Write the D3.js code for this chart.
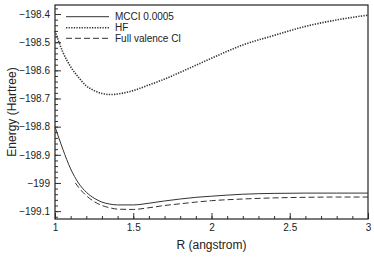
<!DOCTYPE html>
<html>
<head>
<meta charset="utf-8">
<style>
    body { margin: 0; background: #fff; }
    text { font-family: "Liberation Sans", Arial, sans-serif; fill: #222; }
</style>
</head>
<body>
    <script src="https://cdn.jsdelivr.net/npm/d3@7"></script>
    <script type="text/javascript">
        // bond length R (angstrom)
        var rGrid = [1.0, 1.05, 1.1, 1.15, 1.2, 1.25, 1.3, 1.35, 1.4, 1.5, 1.6, 1.7, 1.8, 1.9, 2.0, 2.2, 2.4, 2.6, 2.8, 3.0];
        var mcciEnergy = [-198.8, -198.88, -198.95, -199.0, -199.033, -199.054, -199.068, -199.075, -199.078, -199.078, -199.072, -199.064, -199.057, -199.051, -199.047, -199.04, -199.037, -199.036, -199.036, -199.036];
        var hfEnergy = [-198.46, -198.535, -198.587, -198.625, -198.655, -198.672, -198.682, -198.686, -198.684, -198.672, -198.652, -198.631, -198.607, -198.582, -198.557, -198.51, -198.476, -198.444, -198.421, -198.404];
        var fciGrid = [1.13, 1.15, 1.2, 1.25, 1.3, 1.35, 1.4, 1.5, 1.6, 1.7, 1.8, 1.9, 2.0, 2.2, 2.4, 2.6, 2.8, 3.0];
        var fciEnergy = [-199.0, -199.015, -199.045, -199.066, -199.08, -199.088, -199.093, -199.094, -199.088, -199.08, -199.074, -199.068, -199.063, -199.057, -199.053, -199.051, -199.05, -199.05];

        var xTicks = [1, 1.5, 2, 2.5, 3];
        var yTicks = [-198.4, -198.5, -198.6, -198.7, -198.8, -198.9, -199, -199.1];
        var seriesNames = ["MCCI 0.0005", "HF", "Full valence CI"];

        var svgWidth = 374, svgHeight = 264;
        var plotLeft = 55, plotTop = 5, plotRight = 368, plotBottom = 219;

        var svg = d3.select('body')
            .append('svg')
            .attr('width', svgWidth)
            .attr('height', svgHeight);

        var x = d3.scaleLinear().domain([1, 3]).range([plotLeft, plotRight]);
        var y = d3.scaleLinear().domain([-198.368, -199.128]).range([plotTop, plotBottom]);

        // minor ticks
        var xMinor = d3.range(1, 3.001, 0.1).map(function (d) { return +d.toFixed(2); });
        var yMinor = d3.range(-198.38, -199.13, -0.02).map(function (d) { return +d.toFixed(2); });

        svg.append('g')
            .attr('transform', 'translate(0,' + plotBottom + ')')
            .call(d3.axisBottom(x).tickValues(xMinor).tickFormat('').tickSize(-3).tickSizeOuter(0))
            .call(function (g) { g.select('.domain').remove(); })
            .selectAll('line').attr('stroke', '#333');
        svg.append('g')
            .attr('transform', 'translate(' + plotLeft + ',0)')
            .call(d3.axisLeft(y).tickValues(yMinor).tickFormat('').tickSize(-3).tickSizeOuter(0))
            .call(function (g) { g.select('.domain').remove(); })
            .selectAll('line').attr('stroke', '#333');

        // major ticks + labels
        var xAxis = svg.append('g')
            .attr('transform', 'translate(0,' + plotBottom + ')')
            .call(d3.axisBottom(x).tickValues(xTicks).tickFormat(d3.format('')).tickSize(-6).tickSizeOuter(0).tickPadding(5));
        xAxis.select('.domain').remove();
        xAxis.selectAll('line').attr('stroke', '#333');
        xAxis.selectAll('text').style('font-size', '10px').attr('fill', '#222');

        var yAxis = svg.append('g')
            .attr('transform', 'translate(' + plotLeft + ',0)')
            .call(d3.axisLeft(y).tickValues(yTicks).tickFormat(d3.format('')).tickSize(-6).tickSizeOuter(0).tickPadding(5));
        yAxis.select('.domain').remove();
        yAxis.selectAll('line').attr('stroke', '#333');
        yAxis.selectAll('text').style('font-size', '10px').attr('fill', '#222');

        // frame
        svg.append('rect')
            .attr('x', plotLeft).attr('y', plotTop)
            .attr('width', plotRight - plotLeft).attr('height', plotBottom - plotTop)
            .attr('fill', 'none').attr('stroke', '#222').attr('stroke-width', 1.2);

        var line = d3.line()
            .x(function (d) { return x(d[0]); })
            .y(function (d) { return y(d[1]); })
            .curve(d3.curveMonotoneX);

        var series = [
            { pts: d3.zip(rGrid, mcciEnergy), dash: null, width: 1 },
            { pts: d3.zip(rGrid, hfEnergy), dash: '1.3,1.3', width: 1.6 },
            { pts: d3.zip(fciGrid, fciEnergy), dash: '6,3', width: 1 }
        ];

        svg.selectAll('path.curve')
            .data(series)
            .enter()
            .append('path')
            .attr('class', 'curve')
            .attr('d', function (d) { return line(d.pts); })
            .attr('fill', 'none')
            .attr('stroke', '#333')
            .attr('stroke-width', function (d) { return d.width; })
            .attr('stroke-dasharray', function (d) { return d.dash; });

        // legend
        var legend = svg.append('g');
        var legendY = [16.7, 27.7, 38.3];
        legend.selectAll('line')
            .data(series)
            .enter()
            .append('line')
            .attr('x1', 66).attr('x2', 109)
            .attr('y1', function (d, i) { return legendY[i]; })
            .attr('y2', function (d, i) { return legendY[i]; })
            .attr('stroke', '#333')
            .attr('stroke-width', function (d) { return d.width; })
            .attr('stroke-dasharray', function (d) { return d.dash; });
        legend.selectAll('text')
            .data(seriesNames)
            .enter()
            .append('text')
            .attr('x', 115)
            .attr('y', function (d, i) { return legendY[i] + 3.5; })
            .style('font-size', '10px')
            .text(function (d) { return d; });

        // axis titles
        svg.append('text')
            .attr('x', (plotLeft + plotRight) / 2)
            .attr('y', 249)
            .attr('text-anchor', 'middle')
            .style('font-size', '12px')
            .text('R (angstrom)');
        svg.append('text')
            .attr('transform', 'translate(16,' + ((plotTop + plotBottom) / 2) + ') rotate(-90)')
            .attr('text-anchor', 'middle')
            .style('font-size', '12px')
            .text('Energy (Hartree)');
    </script>
</body>
</html>
